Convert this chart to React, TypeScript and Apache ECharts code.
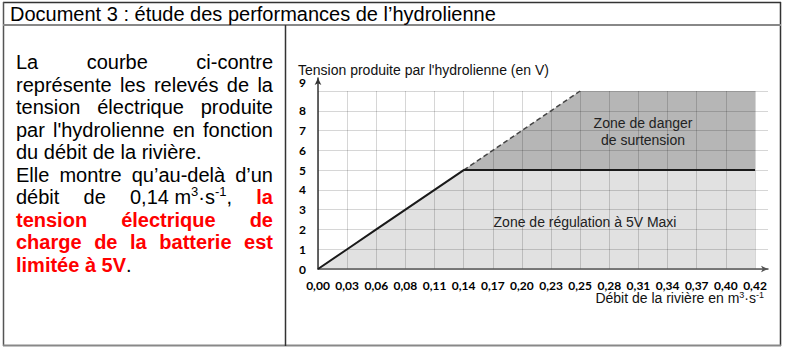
import React, { useEffect, useRef } from "react";
import * as echarts from "echarts";

// ---- data ----
const debitLabels = [
  "0,00", "0,03", "0,06", "0,08", "0,11", "0,14", "0,17", "0,20",
  "0,23", "0,25", "0,28", "0,31", "0,34", "0,37", "0,40", "0,42",
];
const tensionV = [0, 1, 2, 3, 4, 5, 5, 5, 5, 5, 5, 5, 5, 5, 5, 5];
// dashed prolongation (no regulation), from 0,14 onward
const tensionSansRegulation = [null, null, null, null, null, 5, 6, 7, 8, 9, null, null, null, null, null, null];
// top boundary of the "danger" zone
const dangerTop = [null, null, null, null, null, 5, 6, 7, 8, 9, 9, 9, 9, 9, 9, 9];
const regulationLevel = 5;
const yMax = 9;

const titleText = "Document 3 : étude des performances de l’hydrolienne";
const yAxisName = "Tension produite par l'hydrolienne (en V)";
const zoneDanger = "Zone de danger\nde surtension";
const zoneRegulation = "Zone de régulation à 5V Maxi";

const toPairs = (arr: (number | null)[]) =>
  arr.map((v, i) => (v === null ? null : [i, v])).filter((p) => p !== null) as number[][];

const FONT = "'Liberation Sans', Arial, sans-serif";
const TICK_FONT = "Lato, 'Liberation Sans', sans-serif";

export default function App() {
  const ref = useRef<HTMLDivElement>(null);

  useEffect(() => {
    if (!ref.current) return;
    const chart = echarts.init(ref.current, undefined, { renderer: "svg" });
    const gridLine = { show: true, lineStyle: { color: "rgba(0,0,0,0.16)", width: 1 } };

    chart.setOption({
      animation: false,
      backgroundColor: "transparent",
      grid: [
        // A: horizontal grid lines + y labels (extends to arrow)
        { left: 318, right: 17, top: 91, bottom: 82 },
        // B: data
        { left: 318, right: 30, top: 91, bottom: 82 },
        // C: axis lines with arrows
        { left: 318, right: 17, top: 78, bottom: 82 },
      ],
      xAxis: [
        { gridIndex: 0, type: "value", min: 0, max: 1, show: false },
        {
          gridIndex: 1,
          type: "value",
          min: 0,
          max: debitLabels.length - 1,
          interval: 1,
          z: 3,
          axisLine: { show: false },
          axisTick: { show: false },
          splitLine: gridLine,
          axisLabel: {
            margin: 10,
            fontFamily: TICK_FONT,
            fontWeight: "bold",
            fontSize: 12,
            color: "#000",
            formatter: (v: number) => debitLabels[v] ?? "",
          },
        },
        {
          gridIndex: 2,
          type: "value",
          min: 0,
          max: 1,
          z: 4,
          axisLine: {
            show: true,
            symbol: ["none", "arrow"],
            symbolSize: [5, 7],
            lineStyle: { color: "#555", width: 1.5 },
          },
          axisTick: { show: false },
          axisLabel: { show: false },
          splitLine: { show: false },
        },
      ],
      yAxis: [
        {
          gridIndex: 0,
          type: "value",
          min: 0,
          max: yMax,
          interval: 1,
          z: 3,
          axisLine: { show: false },
          axisTick: { show: false },
          splitLine: gridLine,
          axisLabel: {
            margin: 12,
            fontFamily: TICK_FONT,
            fontWeight: "bold",
            fontSize: 12,
            color: "#000",
            formatter: (v: number) => (v === yMax ? "{top|" + v + "}" : String(v)),
            rich: {
              top: {
                fontFamily: TICK_FONT,
                fontWeight: "bold",
                fontSize: 12,
                color: "#000",
                padding: [0, 0, 18, 0],
              },
            },
          },
        },
        { gridIndex: 1, type: "value", min: 0, max: yMax, show: false },
        {
          gridIndex: 2,
          type: "value",
          min: 0,
          max: 1,
          z: 4,
          axisLine: {
            show: true,
            symbol: ["none", "arrow"],
            symbolSize: [5, 7],
            lineStyle: { color: "#333", width: 1.5 },
          },
          axisTick: { show: false },
          axisLabel: { show: false },
          splitLine: { show: false },
        },
      ],
      series: [
        {
          type: "line",
          xAxisIndex: 1,
          yAxisIndex: 1,
          data: toPairs(dangerTop),
          symbol: "none",
          silent: true,
          z: 1,
          lineStyle: { width: 0 },
          areaStyle: { color: "#b6b6b6", opacity: 1, origin: regulationLevel },
        },
        {
          type: "line",
          xAxisIndex: 1,
          yAxisIndex: 1,
          data: toPairs(tensionV),
          symbol: "none",
          silent: true,
          z: 1,
          lineStyle: { width: 0 },
          areaStyle: { color: "#e1e1e1", opacity: 1, origin: "start" },
        },
        {
          type: "line",
          xAxisIndex: 1,
          yAxisIndex: 1,
          data: toPairs(tensionSansRegulation),
          symbol: "none",
          silent: true,
          z: 5,
          lineStyle: { color: "#444", width: 1.5, type: [5, 3] },
        },
        {
          type: "line",
          xAxisIndex: 1,
          yAxisIndex: 1,
          data: toPairs(tensionV),
          symbol: "none",
          silent: true,
          z: 6,
          lineStyle: { color: "#1a1a1a", width: 2 },
        },
      ],
      graphic: [
        // frame
        { type: "line", z: 10, shape: { x1: 3, y1: 2.5, x2: 781, y2: 2.5 }, style: { stroke: "#333", lineWidth: 1.5 } },
        { type: "line", z: 10, shape: { x1: 3.5, y1: 2, x2: 3.5, y2: 346 }, style: { stroke: "#555", lineWidth: 1.5 } },
        { type: "line", z: 10, shape: { x1: 780.5, y1: 2, x2: 780.5, y2: 346 }, style: { stroke: "#333", lineWidth: 1.5 } },
        { type: "line", z: 10, shape: { x1: 3, y1: 25, x2: 781, y2: 25 }, style: { stroke: "#888", lineWidth: 2 } },
        { type: "line", z: 10, shape: { x1: 3, y1: 345.5, x2: 781, y2: 345.5 }, style: { stroke: "#888", lineWidth: 2 } },
        { type: "line", z: 10, shape: { x1: 285.5, y1: 25, x2: 285.5, y2: 346 }, style: { stroke: "#333", lineWidth: 1.5 } },
        // title
        {
          type: "text",
          z: 10,
          x: 10,
          y: 14,
          style: { text: titleText, fontFamily: FONT, fontSize: 20, fill: "#000", verticalAlign: "middle" },
        },
        // axis names
        {
          type: "text",
          z: 10,
          x: 298,
          y: 70,
          style: { text: yAxisName, fontFamily: FONT, fontSize: 14, fill: "#111", verticalAlign: "middle" },
        },
        {
          type: "text",
          z: 10,
          x: 764,
          y: 298,
          style: {
            text: "{n|Débit de la rivière en m}{s|3}{n|·s}{s|-1}",
            align: "right",
            verticalAlign: "middle",
            rich: {
              n: { fontFamily: FONT, fontSize: 14, fill: "#111", lineHeight: 16 },
              s: { fontFamily: FONT, fontSize: 9, fill: "#111", lineHeight: 10, verticalAlign: "top" },
            },
          },
        },
        // zone labels
        {
          type: "text",
          z: 10,
          x: 643,
          y: 131,
          style: {
            text: zoneDanger,
            fontFamily: FONT,
            fontSize: 14,
            lineHeight: 17,
            fill: "#222",
            align: "center",
            verticalAlign: "middle",
          },
        },
        {
          type: "text",
          z: 10,
          x: 585,
          y: 222,
          style: {
            text: zoneRegulation,
            fontFamily: FONT,
            fontSize: 14,
            fill: "#222",
            align: "center",
            verticalAlign: "middle",
          },
        },
      ],
    });
    return () => chart.dispose();
  }, []);

  const red = { color: "#ff0000", fontWeight: "bold" as const };
  const sup = { fontSize: 13, lineHeight: 0 };

  return (
    <div style={{ position: "absolute", left: 0, top: 0, width: 785, height: 351, background: "#fff", overflow: "hidden" }}>
      <div ref={ref} style={{ position: "absolute", left: 0, top: 0, width: 785, height: 351 }} />
      <div
        style={{
          position: "absolute",
          left: 16,
          top: 51,
          width: 257,
          fontFamily: FONT,
          fontSize: 20,
          lineHeight: "22.5px",
          textAlign: "justify",
          color: "#000",
        }}
      >
        <div>
          La courbe ci-contre représente les relevés de la tension électrique produite par l'hydrolienne en fonction du
          débit de la rivière.
        </div>
        <div>
          Elle montre qu’au-delà d’un débit de{" "}
          <span style={{ display: "inline-block", whiteSpace: "nowrap" }}>
            0,14 m<sup style={sup}>3</sup>·s<sup style={sup}>-1</sup>,
          </span>{" "}
          <span style={red}>la tension électrique de charge de la batterie est limitée à 5V</span>.
        </div>
      </div>
    </div>
  );
}
